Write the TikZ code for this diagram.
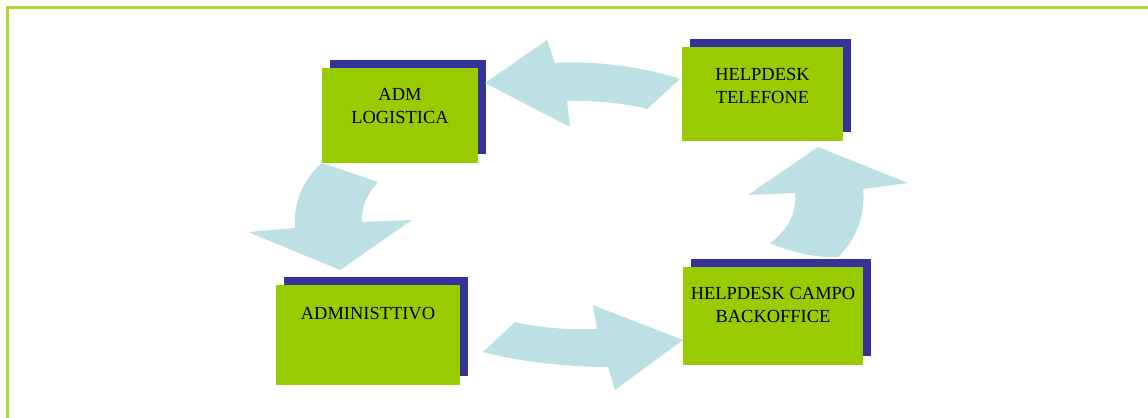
\documentclass[tikz,border=0pt]{standalone}
\usepackage{fontspec}
\setmainfont{Liberation Serif}
\usepackage{xcolor}
\usetikzlibrary{positioning,shadows}
\definecolor{boxgreen}{RGB}{153,204,0}
\definecolor{shadowblue}{RGB}{51,51,153}
\definecolor{arrowcyan}{RGB}{188,224,228}
\definecolor{framegreen}{RGB}{172,218,52}

\tikzset{
  unitbox/.style={fill=boxgreen, inner sep=0pt,
    drop shadow={shadow xshift=0.16cm, shadow yshift=0.17cm, fill=shadowblue, opacity=1}},
  unitlabel/.style={inner sep=0pt, align=center, font=\fontsize{10.5}{13}\selectfont},
  flowarrow/.style={fill=arrowcyan}
}

\begin{document}
\begin{tikzpicture}[x=0.02cm, y=-0.02cm]
  \useasboundingbox (0,0) rectangle (1148,418);
  \draw[framegreen, line width=1.8pt] (7.5,420) -- (7.5,7.5) -- (1150,7.5);
  % the four units
  \node[unitbox, minimum width=3.12cm, minimum height=1.9cm] (adm) at (400,115.5) {};
  \node[unitbox, minimum width=3.22cm, minimum height=1.88cm] (tel) at (762.5,94) {};
  \node[unitbox, minimum width=3.68cm, minimum height=2.0cm] (amm) at (368,335) {};
  \node[unitbox, minimum width=3.6cm, minimum height=1.96cm] (campo) at (773,316) {};
  \node[unitlabel, below=0.4cm of adm.north] (admtxt) {ADM\\LOGISTICA};
  \node[unitlabel, below=0.42cm of tel.north] (teltxt) {HELPDESK\\TELEFONE};
  \node[unitlabel, below=0.44cm of amm.north] (ammtxt) {ADMINISTTIVO};
  \node[unitlabel, below=0.4cm of campo.north] (campotxt) {HELPDESK CAMPO\\BACKOFFICE};
  % curved block arrows
  \fill[flowarrow] (485,83) -- (547,40) -- (555,63) .. controls (590,60) and (645,67) .. (680,79)
    -- (647,109) .. controls (630,104) and (595,100) .. (567,101) -- (570,127) -- cycle;
  \fill[flowarrow] (322,163) -- (378,182) .. controls (366,195) and (361,208) .. (362,222)
    -- (412,220) -- (340,270) -- (248,232) -- (295,228) .. controls (293,205) and (302,180) .. (322,163) -- cycle;
  \fill[flowarrow] (483,352) -- (515,322) .. controls (540,328) and (570,330) .. (597,329)
    -- (593,305) -- (683,340) -- (615,390) -- (608,367) .. controls (570,367) and (520,362) .. (483,352) -- cycle;
  \fill[flowarrow] (818,147) -- (908,183) -- (863,189) .. controls (866,215) and (856,240) .. (838,257)
    .. controls (815,258) and (790,252) .. (770,243) .. controls (788,230) and (797,212) .. (795,193)
    -- (748,195) -- cycle;
\end{tikzpicture}
\end{document}
